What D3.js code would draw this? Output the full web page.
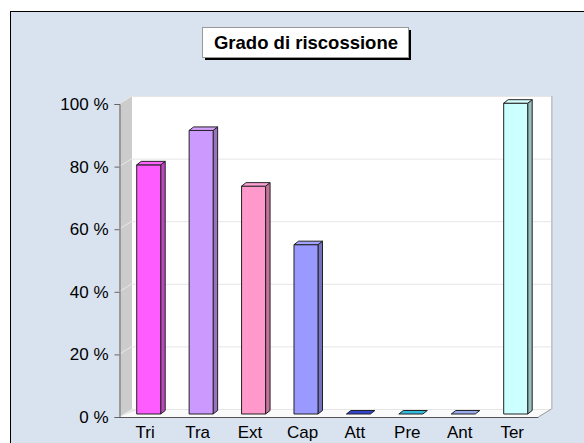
<!DOCTYPE html>
<html><head><meta charset="utf-8">
<script src="https://cdn.jsdelivr.net/npm/d3@7"></script>
<style>html,body{margin:0;padding:0;background:#fff;}svg{display:block;}</style>
</head><body>
<svg id="chart" width="584" height="443"></svg>
<script>
const title = "Grado di riscossione";
const categories = ["Tri", "Tra", "Ext", "Cap", "Att", "Pre", "Ant", "Ter"];
const values = [79.6, 90.6, 72.8, 54.1, 0, 0, 0, 99.3];
const tickValues = [0, 20, 40, 60, 80, 100];
const frontColors = ["#FF5CFF", "#CC99FF", "#FF99CC", "#9999FF", "#3344CC", "#33BBDD", "#99AAEE", "#CCFFFF"];

const svg = d3.select("#chart");
const font = "'Liberation Sans', Arial, Helvetica, sans-serif";

// frame
svg.append("rect").attr("x", 10.5).attr("y", 11.5).attr("width", 620).attr("height", 500)
  .attr("fill", "#D9E3F0").attr("stroke", "#000").attr("stroke-width", 1);

// title box
const tb = {x: 202, y: 27, w: 206, h: 30};
svg.append("rect").attr("x", tb.x + 3).attr("y", tb.y + 3).attr("width", tb.w).attr("height", tb.h).attr("fill", "#000");
svg.append("rect").attr("x", tb.x + 0.5).attr("y", tb.y + 0.5).attr("width", tb.w).attr("height", tb.h)
  .attr("fill", "#fff").attr("stroke", "#999");
svg.append("text").attr("x", tb.x + tb.w / 2 + 1).attr("y", tb.y + 21.5).attr("text-anchor", "middle")
  .attr("font-family", font).attr("font-weight", "bold").attr("font-size", 18.5).attr("fill", "#000").text(title);

// plot geometry
const pL = 119, pR = 538.4, pB = 417, pT = 104;
const depth = {dx: 13, dy: -8};
const y = d3.scaleLinear().domain([0, 100]).range([pB, pT]);
const x = d3.scaleBand().domain(categories).range([pL, pR]).padding(0);
const bar = {w: 24, shift: 3.5, dx: 4.5, dy: -3.5, zy: -3};
const yBar = d3.scaleLinear().domain([0, 100]).range([pB + bar.zy, pT + bar.zy]);

// back wall
svg.append("rect").attr("x", pL + depth.dx).attr("y", pT + depth.dy).attr("width", pR - pL)
  .attr("height", pB - pT).attr("fill", "#fff");
// left wall
svg.append("polygon").attr("points", [[pL, pT], [pL + depth.dx, pT + depth.dy], [pL + depth.dx, pB + depth.dy], [pL, pB]].join(" "))
  .attr("fill", "#CCCCCC");
// floor
svg.append("polygon").attr("points", [[pL, pB], [pL + depth.dx, pB + depth.dy], [pR + depth.dx, pB + depth.dy], [pR, pB]].join(" "))
  .attr("fill", "#FAFAFA");
svg.append("polygon").attr("points", [[pL, pB], [pL + depth.dx, pB + depth.dy], [pL + depth.dx + 8, pB + depth.dy]].join(" "))
  .attr("fill", "#E4E4E4");

// gridlines
tickValues.forEach(t => {
  if (t === 0) return;
  svg.append("line").attr("x1", pL + depth.dx).attr("x2", pR + depth.dx)
    .attr("y1", y(t) + depth.dy + 0.5).attr("y2", y(t) + depth.dy + 0.5).attr("stroke", "#E6E6E6");
  svg.append("line").attr("x1", pL).attr("x2", pL + depth.dx)
    .attr("y1", y(t)).attr("y2", y(t) + depth.dy).attr("stroke", "#E8E8E8");
});
svg.append("line").attr("x1", pL + depth.dx).attr("x2", pR + depth.dx)
  .attr("y1", pB + depth.dy + 0.5).attr("y2", pB + depth.dy + 0.5).attr("stroke", "#E6E6E6");
// right edge of back wall
svg.append("line").attr("x1", pR + depth.dx + 0.5).attr("x2", pR + depth.dx + 0.5)
  .attr("y1", pT + depth.dy).attr("y2", pB + depth.dy).attr("stroke", "#AAAAAA");
svg.append("line").attr("x1", pR).attr("x2", pR + depth.dx)
  .attr("y1", pB).attr("y2", pB + depth.dy).attr("stroke", "#999");

// bars
function darker(c, k) { return d3.color(c).darker(k).formatHex(); }
const g = svg.append("g").attr("stroke", "#222").attr("stroke-width", 1).attr("stroke-linejoin", "round");
categories.forEach((c, i) => {
  const x0 = x(c) + x.bandwidth() / 2 - bar.w / 2 + bar.shift;
  const x1 = x0 + bar.w;
  const yb = yBar(0), yt = yBar(values[i]);
  const col = frontColors[i];
  if (yb - yt > 0.5) {
    g.append("polygon").attr("points", [[x1, yt], [x1 + bar.dx, yt + bar.dy], [x1 + bar.dx, yb + bar.dy], [x1, yb]].join(" "))
      .attr("fill", darker(col, 0.8));
    g.append("rect").attr("x", x0).attr("y", yt).attr("width", bar.w).attr("height", yb - yt).attr("fill", col);
  }
  g.append("polygon").attr("points", [[x0, yt], [x0 + bar.dx, yt + bar.dy], [x1 + bar.dx, yt + bar.dy], [x1, yt]].join(" "))
    .attr("fill", values[i] > 0 ? d3.color(col).brighter(0.15).formatHex() : col);
});

// axes
const yAxis = d3.axisLeft(y).tickValues(tickValues).tickFormat(d => d + " %").tickSize(5).tickPadding(6);
const ya = svg.append("g").attr("transform", `translate(${pL + 0.5},0)`).call(yAxis);
ya.select(".domain").attr("stroke", "#666");
ya.selectAll(".tick line").attr("stroke", "#666");
ya.selectAll(".tick text").attr("font-family", font).attr("font-size", 17).attr("fill", "#000");

svg.append("line").attr("x1", pL).attr("x2", pR).attr("y1", pB + 0.5).attr("y2", pB + 0.5).attr("stroke", "#555");

const xAxis = d3.axisBottom(x).tickSize(0).tickPadding(9);
const xa = svg.append("g").attr("transform", `translate(0,${pB})`).call(xAxis);
xa.select(".domain").remove();
xa.selectAll(".tick text").attr("font-family", font).attr("font-size", 17).attr("fill", "#000");
</script>
</body></html>
